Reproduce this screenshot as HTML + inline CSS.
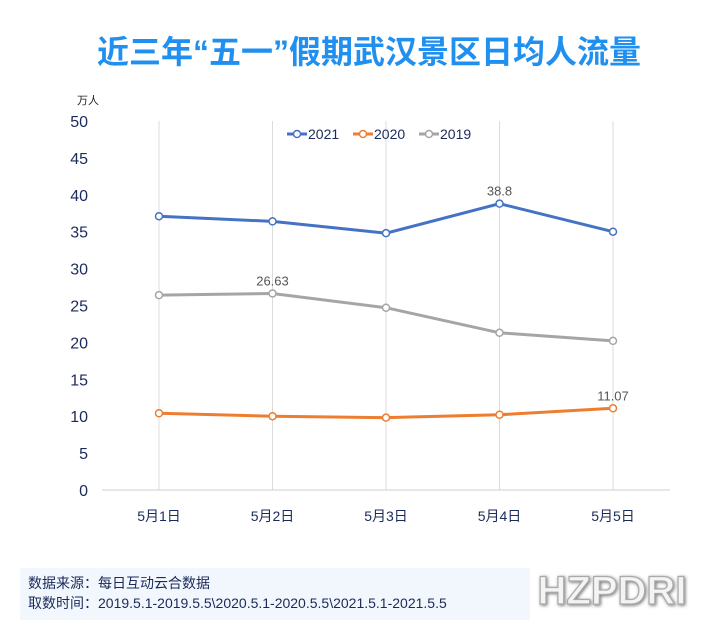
<!DOCTYPE html>
<html><head><meta charset="utf-8"><style>
body{margin:0;width:720px;height:624px;background:#fff;overflow:hidden;font-family:"Liberation Sans","Noto Sans CJK SC",sans-serif;}
</style></head><body>
<svg width="720" height="624" xmlns="http://www.w3.org/2000/svg">
<defs><filter id="sh" x="-10%" y="-20%" width="130%" height="150%"><feDropShadow dx="1" dy="1" stdDeviation="1.5" flood-color="#777"/></filter></defs>
<text x="369" y="63" text-anchor="middle" font-size="32" font-weight="bold" fill="#1f8ff0" font-family="'Liberation Sans','Noto Sans CJK SC',sans-serif">近三年“五一”假期武汉景区日均人流量</text>
<text x="77" y="104" font-size="11" fill="#222" font-family="'Liberation Sans','Noto Sans CJK SC',sans-serif">万人</text>
<g id="grid"></g><g id="yticks"></g><g id="xticks"></g><g id="series"></g>
<g id="legend" font-size="14" fill="#1a2a5a"></g>
<rect x="20" y="568" width="510" height="52" fill="#f2f7fd"/>
<text x="28" y="588" font-size="14" fill="#1a2a5a" font-family="'Liberation Sans','Noto Sans CJK SC',sans-serif">数据来源：每日互动云合数据</text>
<text x="28" y="608" font-size="14" fill="#1a2a5a" font-family="'Liberation Sans','Noto Sans CJK SC',sans-serif">取数时间：2019.5.1-2019.5.5\2020.5.1-2020.5.5\2021.5.1-2021.5.5</text>
<text x="612" y="604" text-anchor="middle" font-size="40" font-weight="900" fill="#f4f4f4" stroke="#aaa" stroke-width="1.2" filter="url(#sh)" font-family="'Liberation Sans',sans-serif">HZPDRI</text>
</svg>
<script>
const categories=["5月1日","5月2日","5月3日","5月4日","5月5日"];
const yTicks=[0,5,10,15,20,25,30,35,40,45,50];
const s2021=[37.1,36.4,34.8,38.8,35.0];
const s2020=[10.4,10.0,9.8,10.2,11.07];
const s2019=[26.4,26.63,24.7,21.3,20.2];
const NS="http://www.w3.org/2000/svg";
const xPos=i=>159+i*113.5;
const yPos=v=>490-v*7.38;
function mk(t,a,p){const e=document.createElementNS(NS,t);for(const k in a)e.setAttribute(k,a[k]);p.appendChild(e);return e;}
const grid=document.getElementById('grid'),yt=document.getElementById('yticks'),xt=document.getElementById('xticks'),sg=document.getElementById('series'),lg=document.getElementById('legend');
categories.forEach((c,i)=>{
 const l=mk('line',{x1:xPos(i),x2:xPos(i),y1:yPos(50),y2:490,stroke:'#dcdcdc','stroke-width':1},grid);
 
 
 const t=mk('text',{x:xPos(i),y:521,'text-anchor':'middle','font-size':14,fill:'#1a2a5a'},xt);t.textContent=c;
 
 
});
const ax=mk('line',{x1:102,x2:670,y1:490,y2:490,stroke:'#cfcfcf','stroke-width':1},grid);


yTicks.forEach(v=>{const t=mk('text',{x:88,y:yPos(v)+6,'text-anchor':'end','font-size':16,fill:'#1a2a5a'},yt);t.textContent=v;
 
 });
const series=[["2021",s2021,"#4472c4"],["2020",s2020,"#ed7d31"],["2019",s2019,"#a5a5a5"]];
series.forEach(([name,d,col])=>{
 const p=mk('polyline',{points:d.map((v,i)=>xPos(i)+','+yPos(v)).join(' '),fill:'none',stroke:col,'stroke-width':3},sg);
 
 
 d.forEach((v,i)=>{const c=mk('circle',{cx:xPos(i),cy:yPos(v),r:3.5,fill:'#fff',stroke:col,'stroke-width':1.5},sg);
  
  });
});
[[s2021,3],[s2019,1],[s2020,4]].forEach(([d,i])=>{const t=mk('text',{x:xPos(i),y:yPos(d[i])-8,'text-anchor':'middle','font-size':13,fill:'#555'},sg);t.textContent=d[i];
 
 });
series.forEach(([name,d,col],k)=>{const x0=287+k*66;
 const g=mk('g',{},lg);
 
 
 mk('line',{x1:x0,x2:x0+20,y1:134,y2:134,stroke:col,'stroke-width':3},g);
 mk('circle',{cx:x0+10,cy:134,r:3.5,fill:'#fff',stroke:col,'stroke-width':1.5},g);
 const t=mk('text',{x:x0+21,y:139,'font-size':14,fill:'#1a2a5a'},g);t.textContent=name;});
</script>
</body></html>
